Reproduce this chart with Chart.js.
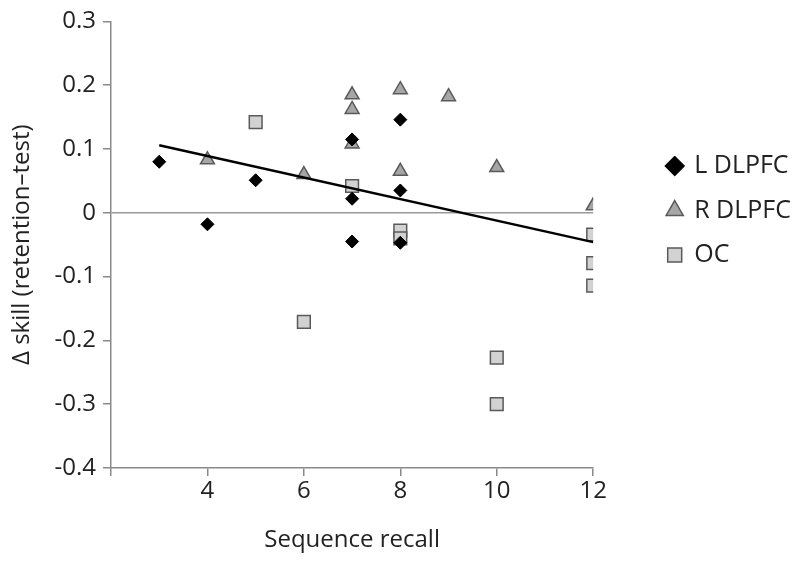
<!DOCTYPE html>
<html>
<head>
<meta charset="utf-8">
<script src="https://cdn.jsdelivr.net/npm/chart.js@4"></script>
<style>
  body { margin: 0; background: #fff; }
</style>
</head>
<body>
<canvas id="chart" width="800" height="563"></canvas>
<script>
// values
const leftX  = [3, 4, 5, 7, 7, 7, 8, 8, 8];
const leftY  = [0.080, -0.018, 0.051, 0.115, 0.022, -0.045, 0.146, 0.035, -0.047];

const rightX = [4, 6, 7, 7, 7, 8, 8, 9, 10, 12];
const rightY = [0.083, 0.060, 0.185, 0.162, 0.108, 0.193, 0.065, 0.182, 0.071, 0.011];

const ocX = [5, 6, 7, 8, 8, 10, 10, 12, 12, 12];
const ocY = [0.142, -0.171, 0.042, -0.028, -0.040, -0.227, -0.300, -0.034, -0.079, -0.114];

const trendX = [3, 12];
const trendY = [0.106, -0.046];

const seriesNames = ['L DLPFC', 'R DLPFC', 'OC'];
const xTicks = [4, 6, 8, 10, 12];

const toPoints = (xs, ys) => xs.map((x, i) => ({ x: x, y: ys[i] }));

const font = 'Open Sans';
const axisGray = '#8a8a8a';

// the legend sits apart from the plot, so nudge it after layout
const legendShift = {
    id: 'legendShift',
    afterLayout(chart) {
        const lg = chart.legend;
        lg.left += 55; lg.right += 55;
        lg.top -= 78; lg.bottom -= 78;
    }
};

new Chart(document.getElementById('chart').getContext('2d'), {
    type: 'scatter',
    plugins: [legendShift],
    data: {
        datasets: [{
            label: seriesNames[0],
            data: toPoints(leftX, leftY),
            pointStyle: 'rectRot',
            pointRadius: 6.5,
            backgroundColor: '#000',
            borderColor: '#000',
            borderWidth: 1,
        }, {
            label: seriesNames[1],
            data: toPoints(rightX, rightY),
            pointStyle: 'triangle',
            pointRadius: 8,
            backgroundColor: '#a6a6a6',
            borderColor: '#5a5a5a',
            borderWidth: 1.5,
        }, {
            label: seriesNames[2],
            data: toPoints(ocX, ocY),
            pointStyle: 'rect',
            pointRadius: 9,
            backgroundColor: '#d2d2d2',
            borderColor: '#5a5a5a',
            borderWidth: 1.5,
        }, {
            label: 'trend',
            data: toPoints(trendX, trendY),
            showLine: true,
            pointRadius: 0,
            borderColor: '#000',
            borderWidth: 2.5,
            order: -1,
        }]
    },
    options: {
        responsive: false,
        animation: false,
        layout: { padding: { left: 0, right: 54, top: 14, bottom: 0 } },
        plugins: {
            tooltip: { enabled: false },
            legend: {
                position: 'right',
                labels: {
                    usePointStyle: true,
                    boxHeight: 14,
                    boxWidth: 14,
                    padding: 19.5,
                    color: '#222',
                    font: { family: font, size: 25 },
                    filter: item => item.text !== 'trend',
                }
            }
        },
        scales: {
            x: {
                type: 'linear',
                min: 2,
                max: 12,
                afterBuildTicks: scale => { scale.ticks = [2].concat(xTicks).map(v => ({ value: v })); },
                afterFit: scale => { scale.height = 95; },
                ticks: {
                    color: '#222',
                    padding: 1,
                    font: { family: font, size: 24 },
                    callback: v => v === 2 ? '' : v,
                },
                grid: { drawOnChartArea: false, tickLength: 8, tickColor: axisGray, lineWidth: 1.5 },
                border: { color: axisGray, width: 1.5 },
                title: {
                    display: true,
                    text: 'Sequence recall',
                    color: '#222',
                    font: { family: font, size: 24 },
                    padding: { top: 0, bottom: 8 },
                }
            },
            y: {
                min: -0.4,
                max: 0.3,
                afterFit: scale => { scale.width = 111; },
                ticks: {
                    stepSize: 0.1,
                    color: '#222',
                    padding: 7,
                    font: { family: font, size: 24 },
                    callback: v => Math.abs(v) < 1e-9 ? '0' : v.toFixed(1),
                },
                grid: {
                    tickLength: 8,
                    lineWidth: 1.5,
                    tickColor: axisGray,
                    color: ctx => (ctx.tick && Math.abs(ctx.tick.value) < 1e-9) ? '#9a9a9a' : 'rgba(0,0,0,0)',
                },
                border: { color: axisGray, width: 1.5 },
                title: {
                    display: true,
                    text: 'Δ skill (retention–test)',
                    color: '#222',
                    font: { family: font, size: 24 },
                    padding: { top: 8, bottom: 0 },
                }
            }
        }
    }
});
</script>
</body>
</html>
